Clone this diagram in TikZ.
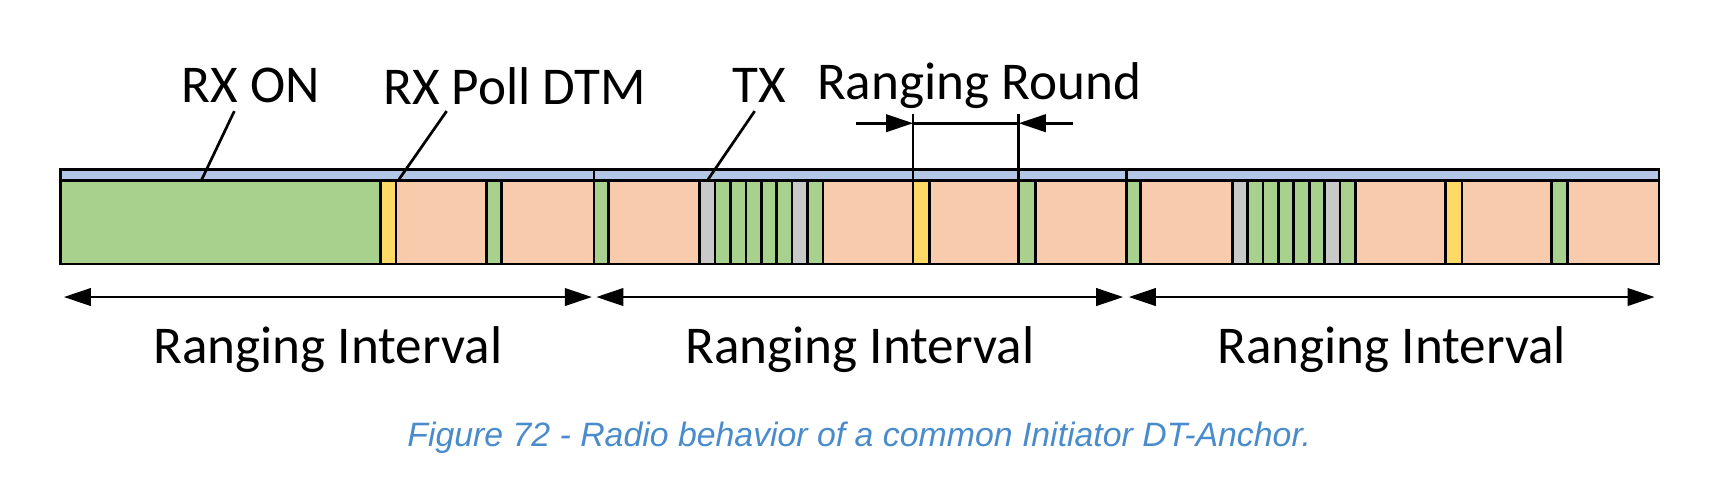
\documentclass[tikz,border=0pt]{standalone}
\usepackage{fontspec}
\setmainfont{Carlito}
\newfontfamily\capfont{Liberation Sans}
\usetikzlibrary{arrows.meta}
\definecolor{slotgreen}{HTML}{A9D18E}
\definecolor{slotorange}{HTML}{F8CBAD}
\definecolor{slotyellow}{HTML}{FFD966}
\definecolor{slotgray}{HTML}{C9C9C9}
\definecolor{stripblue}{HTML}{B4C7E7}
\definecolor{capblue}{HTML}{4A8CCB}
\tikzset{
  slot/.style={draw=black, line width=1.4pt},
  lbl/.style={font=\fontsize{27.5}{30}\selectfont, inner sep=0pt},
  dim/.style={line width=1.4pt, -{Triangle[length=14pt,width=9pt]}},
}
\begin{document}
\begin{tikzpicture}[x=0.02cm, y=-0.02cm]
  \useasboundingbox (0,0) rectangle (1568,435);

  % First interval
  \fill[slotgreen] (55,164) rectangle (346,240);
  \draw[slot, fill=slotyellow] (346,164) rectangle (360,240);
  \draw[slot, fill=slotorange] (360,164) rectangle (442,240);
  \draw[slot, fill=slotgreen] (442,164) rectangle (456,240);
  \draw[slot, fill=slotorange] (456,164) rectangle (540,240);

  % Second and third interval
  \foreach \s in {540,1024} {
    \begin{scope}[xshift=\s*0.02cm]
      \draw[slot, fill=slotorange] (0,164) rectangle (484,240);
      \draw[slot, fill=slotgreen] (0,164) rectangle (13,240);
      \foreach \k/\c in {0/slotgray,1/slotgreen,2/slotgreen,3/slotgreen,4/slotgreen,5/slotgreen,6/slotgray,7/slotgreen}
        \draw[slot, fill=\c] (96+14*\k,164) rectangle (110+14*\k,240);
      \draw[slot, fill=slotyellow] (290,164) rectangle (305,240);
      \draw[slot, fill=slotgreen] (386,164) rectangle (401,240);
    \end{scope}
  }
  \draw[slot] (55,164) rectangle (1508,240);

  % Blue strip
  \draw[slot, fill=stripblue] (55,154) rectangle (1508,164);
  \draw[slot] (540,154) -- (540,164);
  \draw[slot] (1024,154) -- (1024,164);

  % Top labels with leaders
  \node[lbl] (rxon) at (228,78) {RX ON};
  \node[lbl] (rxpoll) at (468,78) {RX Poll DTM};
  \node[lbl] (tx) at (690,78) {TX};
  \node[lbl] (round) at (890,78) {Ranging Round};
  \coordinate (rxonend) at (183,164);
  \coordinate (rxpollend) at (362,164);
  \coordinate (txend) at (643,164);
  \draw[line width=1.4pt] (213,101) -- (rxonend);
  \draw[line width=1.4pt] (406,101) -- (rxpollend);
  \draw[line width=1.4pt] (686,101) -- (txend);

  % Ranging round marker
  \coordinate (rra) at (830,112);
  \coordinate (rrb) at (926,112);
  \draw[line width=1.4pt] (830,104) -- (830,164);
  \draw[line width=1.4pt] (926,104) -- (926,164);
  \draw[line width=1.4pt] (rra) -- (rrb);
  \draw[dim] (778,112) -- (rra);
  \draw[dim] (975,112) -- (rrb);

  % Ranging intervals
  \foreach \a/\b [count=\i] in {58/538,542/1021,1026/1504} {
    \coordinate (ia\i) at (\a,270);
    \coordinate (ib\i) at (\b,270);
    \draw[dim, {Triangle[length=14pt,width=9pt]}-{Triangle[length=14pt,width=9pt]}] (ia\i) -- (ib\i);
    \node[lbl] (interval\i) at ({(\a+\b)/2},318) {Ranging Interval};
  }

  \node[font=\capfont\itshape\fontsize{17.5}{20}\selectfont, text=capblue] (caption) at (781,398)
    {Figure 72 - Radio behavior of a common Initiator DT-Anchor.};
\end{tikzpicture}
\end{document}
